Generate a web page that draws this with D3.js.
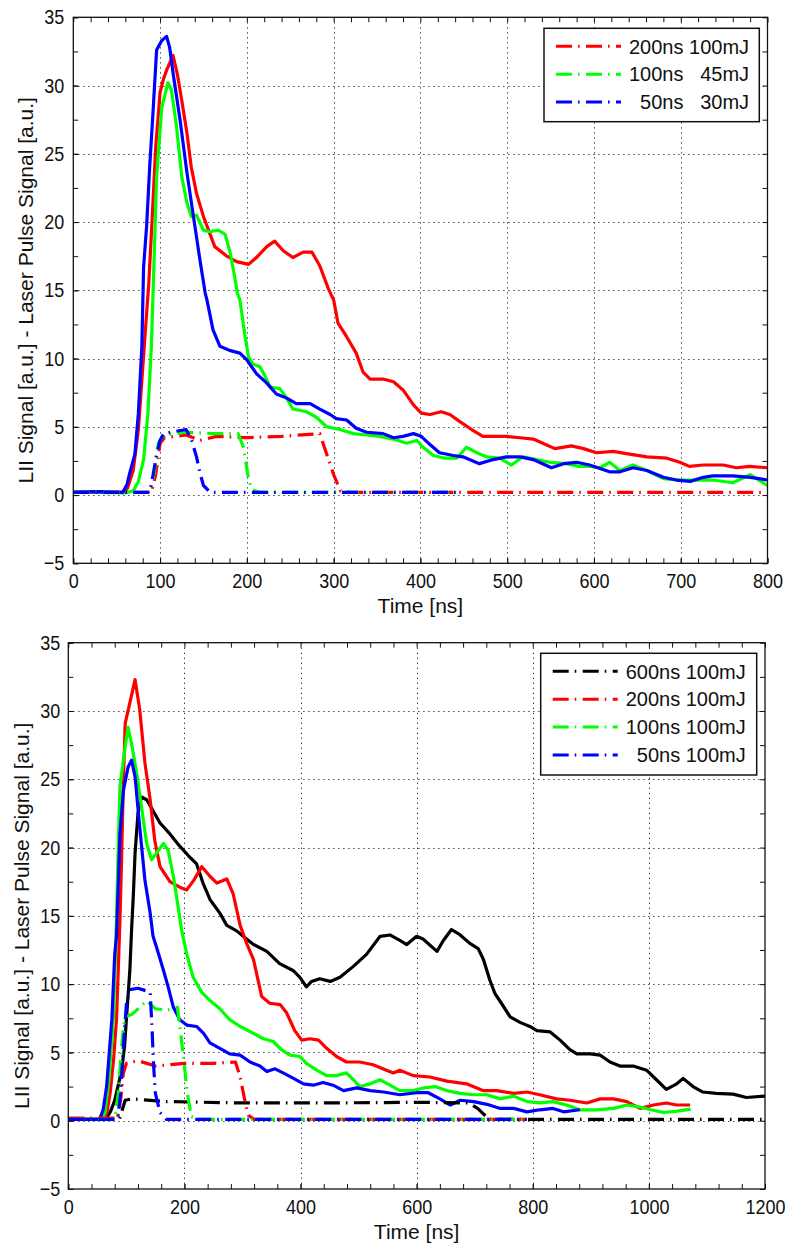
<!DOCTYPE html>
<html>
<head>
<meta charset="utf-8">
<script src="https://cdn.jsdelivr.net/npm/d3@7"></script>
<style>
  body { margin: 0; background: #fff; }
  svg { display: block; }
  text { font-family: "Liberation Sans", Arial, Helvetica, sans-serif; fill: #111; }
</style>
</head>
<body>
<svg id="chart" width="785" height="1248"></svg>
<script>
// ---- top panel data (time ns, signal a.u.) ----
const topLabels = ["200ns\u00a0100mJ", "100ns\u00a0\u00a0\u00a045mJ", "\u00a0\u00a050ns\u00a0\u00a0\u00a030mJ"];
const topColors = ["#ff0000", "#00ff00", "#0000ff"];
const topXTicks = [0, 100, 200, 300, 400, 500, 600, 700, 800];

const topRedLii = [[0,0.2],[20,0.25],[40,0.2],[60,0.2],[63,0.6],[69,1.8],[75,4.8],[79,8.4],[83,12],[87,15.5],[91,20.4],[95,25.5],[100,29.5],[104,30.5],[108,31.2],[115,32.2],[120,30.8],[125,28.9],[131,26.5],[136,24],[142,22.1],[150,20.4],[163,18.2],[177,17.5],[188,17.1],[202,16.9],[211,17.4],[223,18.2],[232,18.6],[242,17.9],[253,17.4],[265,17.8],[275,17.8],[284,16.8],[294,15.1],[300,14.3],[305,12.6],[315,11.6],[326,10.4],[334,9.0],[342,8.5],[357,8.5],[369,8.3],[380,7.7],[392,6.6],[401,6.0],[411,5.9],[424,6.1],[434,5.9],[445,5.4],[459,4.8],[472,4.3],[488,4.3],[499,4.3],[515,4.2],[530,4.1],[541,3.8],[555,3.4],[574,3.6],[588,3.4],[603,3.1],[622,3.2],[641,3.0],[661,2.8],[684,2.7],[699,2.4],[710,2.1],[726,2.2],[749,2.2],[764,2.0],[779,2.1],[800,2.0]];
const topGreenLii = [[0,0.2],[30,0.2],[60,0.15],[69,0.3],[75,1],[81,2.6],[86,6],[90,10.9],[92,15],[96,23.3],[102,28.4],[109,30.2],[113,29.7],[119,27],[125,23.3],[131,21.4],[136,20.4],[142,20.5],[150,19.4],[157,19.3],[167,19.4],[175,19.1],[181,17.7],[186,16],[189,14.8],[192,14.3],[198,11.6],[202,10.1],[207,9.6],[215,9.4],[221,8.7],[227,7.9],[238,7.8],[246,7.1],[253,6.3],[269,6.1],[280,5.7],[292,5.0],[307,4.8],[323,4.5],[338,4.4],[353,4.3],[369,4.1],[384,3.8],[396,4.0],[403,3.5],[415,2.9],[428,2.7],[442,2.7],[453,3.5],[465,3.1],[476,2.8],[491,2.7],[505,2.2],[518,2.8],[534,2.6],[549,2.4],[568,2.3],[583,2.1],[595,2.1],[607,2.0],[618,2.4],[630,1.8],[645,2.2],[661,1.8],[680,1.2],[699,1.1],[718,1.1],[737,1.1],[760,0.9],[780,1.5],[800,0.7]];
const topBlueLii = [[0,0.2],[30,0.25],[57,0.2],[62,0.8],[65,1.6],[71,3],[75,6],[79,10.9],[81,16.7],[84.5,19.7],[88,24],[92,28.2],[96,32.6],[102,33.3],[107.5,33.6],[111,32.8],[115,30.9],[123,27.5],[131,23.6],[138,20.6],[146,17.2],[152,14.8],[154,14.3],[161,12.1],[169,10.9],[180,10.6],[192,10.4],[200,9.9],[211,8.9],[223,8.2],[234,7.4],[246,7.1],[257,6.7],[273,6.7],[284,6.3],[296,5.9],[303,5.6],[315,5.5],[326,4.9],[338,4.6],[357,4.5],[369,4.2],[380,4.3],[392,4.5],[401,4.3],[411,3.7],[422,3.1],[438,2.9],[449,2.8],[468,2.3],[484,2.6],[499,2.8],[515,2.8],[530,2.6],[551,2.0],[565,2.3],[580,2.4],[595,2.2],[618,1.7],[630,1.7],[645,2.0],[661,1.8],[680,1.3],[695,1.1],[711,1.0],[726,1.3],[737,1.4],[760,1.4],[780,1.3],[800,1.1]];
const topRedPulse = [[0,0.2],[90,0.2],[95,1.5],[100,3.8],[105,4.2],[130,4.4],[146,4.0],[165,4.3],[200,4.2],[240,4.3],[284,4.5],[292,3],[300,1.5],[308,0.3],[320,0.2],[800,0.2]];
const topGreenPulse = [[0,0.2],[88,0.2],[93,1.5],[98,3.8],[104,4.4],[130,4.6],[160,4.5],[190,4.5],[196,3.5],[201.6,1.3],[205.5,0.4],[215,0.2],[445,0.2]];
const topBluePulse = [[0,0.2],[88,0.2],[92,1.5],[96,3.0],[100,4.0],[104,4.5],[130,4.8],[136,4.1],[142,2.8],[146,1.6],[150,0.7],[158,0.2],[445,0.2]];

// ---- bottom panel data ----
const botLabels = ["600ns\u00a0100mJ", "200ns\u00a0100mJ", "100ns\u00a0100mJ", "\u00a0\u00a050ns\u00a0100mJ"];
const botColors = ["#000000", "#ff0000", "#00ff00", "#0000ff"];
const botXTicks = [0, 200, 400, 600, 800, 1000, 1200];

const botBlackLii = [[0,0.1],[30,0.1],[60,0.1],[66,0.2],[73,0.7],[80,1.5],[86,2.6],[92,3.7],[97,5.5],[100,7.4],[106,11],[109,14],[112,16.5],[115,19.6],[120,22.5],[126,23.7],[135,23.5],[146,22.7],[158,21.8],[175,21.0],[192,20.1],[207,19.4],[221,18.8],[232,17.4],[244,16.2],[261,15.2],[273,14.3],[290,13.9],[307,13.3],[319,12.9],[342,12.4],[364,11.5],[387,11.0],[399,10.5],[410,9.8],[419,10.2],[433,10.4],[451,10.2],[468,10.5],[491,11.3],[514,12.2],[537,13.5],[554,13.6],[571,13.2],[583,12.9],[600,13.5],[611,13.3],[635,12.4],[646,13.2],[660,14.0],[675,13.6],[691,13.0],[706,12.6],[715,11.8],[726,10.3],[735,9.3],[746,8.6],[761,7.6],[778,7.2],[795,6.9],[807,6.6],[830,6.5],[847,5.9],[864,5.2],[876,4.9],[899,4.9],[916,4.8],[933,4.3],[950,4.0],[973,4.0],[996,3.7],[1013,3.0],[1030,2.3],[1048,2.7],[1059,3.1],[1076,2.5],[1093,2.1],[1116,2.0],[1145,1.95],[1168,1.7],[1200,1.8]];
const botRedLii = [[0,0.15],[30,0.1],[60,0.1],[66,0.5],[72,2],[78,4.5],[83,7.4],[86,11],[89,14.7],[92,19.6],[95,25],[98,29.1],[106,30.6],[115,32.3],[123,30.1],[132,26.2],[141,23.5],[149,20.5],[158,18.6],[175,17.5],[192,17.1],[204,16.9],[216,17.6],[230,18.6],[244,17.9],[256,17.4],[273,17.7],[284,16.6],[296,14.3],[307,13.0],[319,11.8],[333,9.1],[347,8.6],[365,8.5],[376,7.9],[390,6.6],[402,5.9],[416,6.0],[431,5.9],[445,5.3],[462,4.7],[479,4.3],[502,4.3],[525,4.1],[548,3.7],[560,3.5],[571,3.7],[594,3.3],[623,3.2],[652,2.9],[686,2.7],[715,2.2],[738,2.2],[767,2.0],[790,2.1],[812,1.9],[841,1.6],[864,1.5],[893,1.3],[916,1.6],[939,1.6],[962,1.4],[985,0.9],[1008,1.15],[1030,1.3],[1048,1.15],[1071,1.15]];
const botGreenLii = [[0,0.1],[30,0.1],[58,0.1],[63,0.6],[70,3],[77.5,7.4],[83,14.7],[86,20],[89,24.5],[98,27.4],[103,28.8],[109,27.6],[118,25.4],[126,23.0],[135,20.3],[143.5,19.1],[152,19.6],[164,20.3],[172,19.8],[181,17.9],[189,15.7],[195,14],[204,12.2],[215,10.5],[230,9.4],[244,8.8],[261,8.2],[278,7.4],[296,6.9],[319,6.4],[336,6.0],[353,5.8],[367,5.2],[382,4.8],[399,4.7],[410,4.2],[428,3.7],[445,3.3],[462,3.3],[479,3.5],[491,3.0],[502,2.5],[520,2.7],[537,3.0],[554,2.6],[571,2.2],[594,2.2],[612,2.4],[632,2.5],[652,2.2],[675,2.0],[698,1.9],[721,1.9],[744,1.6],[767,1.8],[790,1.4],[812,1.3],[835,1.4],[858,1.15],[881,0.8],[910,0.8],[939,0.9],[962,1.15],[985,1.0],[1003,0.8],[1026,0.6],[1049,0.7],[1072,0.85]];
const botBlueLii = [[0,0.1],[30,0.1],[54,0.1],[60,0.8],[66,2.5],[75,7.4],[80,12.2],[83,13.5],[89,21.0],[95,24.2],[103,25.9],[109,26.4],[115,25.2],[123,21.5],[132,17.6],[141,15.2],[146,13.5],[152,12.7],[164,11.0],[172,9.8],[181,8.3],[192,7.4],[204,7.0],[221,6.9],[233,6.4],[244,5.7],[261,5.3],[278,4.9],[296,4.8],[313,4.3],[330,4.0],[342,3.6],[356,3.8],[370,3.5],[388,3.1],[405,2.7],[422,2.6],[439,2.8],[456,2.6],[474,2.2],[497,2.4],[520,2.2],[543,2.1],[571,1.9],[600,2.05],[620,2.05],[640,1.6],[658,1.15],[675,1.5],[698,1.4],[721,1.2],[744,0.9],[767,0.9],[790,0.65],[812,0.8],[835,0.9],[853,0.65],[881,0.8]];
const botBlackPulse = [[0,0.1],[88,0.1],[93,0.8],[98,1.5],[110,1.6],[170,1.4],[300,1.3],[450,1.3],[600,1.35],[690,1.3],[705,0.9],[715,0.5],[725,0.1],[1200,0.1]];
const botRedPulse = [[0,0.2],[85,0.2],[90,1.5],[95,3.5],[100,4.2],[120,4.4],[150,4.0],[200,4.2],[250,4.2],[288,4.3],[296,3.2],[304,1.5],[310,0.4],[320,0.1],[790,0.1]];
const botGreenPulse = [[0,0.1],[80,0.1],[86,2],[92,5.5],[97,7.6],[110,7.8],[123,8.3],[135,8.8],[150,8.2],[170,8.1],[188,8.3],[193,6.6],[200,4],[205,2],[212,0.3],[225,0.1],[790,0.1]];
const botBluePulse = [[0,0.1],[85,0.1],[90,2],[95,5.5],[100,8.5],[106,9.6],[120,9.7],[135,9.5],[141,9.4],[144,7],[147,4],[150,2],[158,0.6],[169,0.1],[790,0.1]];

const yTicks = [-5, 0, 5, 10, 15, 20, 25, 30, 35];
const yLabel = "LII Signal [a.u.] - Laser Pulse Signal [a.u.]";
const xLabel = "Time [ns]";

const DASHDOT = "16,6,1.6,6.4";
const svg = d3.select("#chart");

function drawPanel(p) {
  const x = d3.scaleLinear().domain(p.xDomain).range([p.left, p.right]);
  const y = d3.scaleLinear().domain([-5, 35]).range([p.bottom, p.top]);
  const g = svg.append("g");

  const clipId = "clip" + p.id;
  g.append("clipPath").attr("id", clipId)
    .append("rect")
    .attr("x", p.left).attr("y", p.top)
    .attr("width", p.right - p.left).attr("height", p.bottom - p.top);

  // dotted grid
  const grid = g.append("g").attr("stroke", "#222").attr("stroke-width", 1)
    .attr("stroke-dasharray", "1.2,3.8");
  grid.selectAll(".gx").data(p.xTicks.slice(1, -1)).enter().append("line")
    .attr("x1", d => Math.round(x(d)) + 0.5).attr("x2", d => Math.round(x(d)) + 0.5)
    .attr("y1", p.top).attr("y2", p.bottom);
  grid.selectAll(".gy").data(yTicks.slice(1, -1)).enter().append("line")
    .attr("y1", d => Math.round(y(d)) + 0.5).attr("y2", d => Math.round(y(d)) + 0.5)
    .attr("x1", p.left).attr("x2", p.right);

  // series
  const line = d3.line().x(d => x(d[0])).y(d => y(d[1]));
  const plot = g.append("g").attr("clip-path", `url(#${clipId})`);
  p.series.forEach(s => {
    plot.append("path")
      .attr("d", line(s.data))
      .attr("fill", "none")
      .attr("stroke", s.color)
      .attr("stroke-width", 3.2)
      .attr("stroke-linejoin", "round")
      .attr("stroke-dasharray", s.dash ? DASHDOT : null);
  });

  // axes with inward ticks on all sides
  const minorX = d3.range(p.xDomain[0], p.xDomain[1] + 0.01, p.xMinor);
  const minorY = d3.range(-5, 35.01, 2.5);
  const fmt = d3.format("d");
  const axes = [
    [d3.axisBottom(x).tickValues(p.xTicks).tickSize(-5).tickPadding(9).tickFormat(fmt), `translate(0,${p.bottom})`],
    [d3.axisBottom(x).tickValues(minorX).tickSize(-5).tickFormat(""), `translate(0,${p.bottom})`],
    [d3.axisTop(x).tickValues(minorX).tickSize(-5).tickFormat(""), `translate(0,${p.top})`],
    [d3.axisLeft(y).tickValues(yTicks).tickSize(-5).tickPadding(p.yPad).tickFormat(fmt), `translate(${p.left},0)`],
    [d3.axisLeft(y).tickValues(minorY).tickSize(-5).tickFormat(""), `translate(${p.left},0)`],
    [d3.axisRight(y).tickValues(minorY).tickSize(-5).tickFormat(""), `translate(${p.right},0)`],
  ];
  axes.forEach(([ax, tr]) => {
    const a = g.append("g").attr("transform", tr).call(ax);
    a.select(".domain").remove();
    a.selectAll("line").attr("stroke", "#111");
    a.selectAll("text").attr("font-size", 18).attr("fill", "#111")
      .attr("transform", "scale(1,1.15)")
      .style("font-family", '"Liberation Sans", Arial, sans-serif');
  });

  g.append("rect")
    .attr("x", p.left).attr("y", p.top)
    .attr("width", p.right - p.left).attr("height", p.bottom - p.top)
    .attr("fill", "none").attr("stroke", "#111").attr("stroke-width", 1.3);

  // axis labels
  g.append("text")
    .attr("x", (p.left + p.right) / 2).attr("y", p.bottom + 50)
    .attr("text-anchor", "middle").attr("font-size", 21)
    .text(xLabel);
  g.append("text")
    .attr("transform", `translate(${p.yLabelX},${(p.top + p.bottom) / 2}) rotate(-90)`)
    .attr("text-anchor", "middle").attr("font-size", 21)
    .text(yLabel);

  // legend
  const L = p.legend;
  g.append("rect")
    .attr("x", L.x).attr("y", L.y).attr("width", L.w).attr("height", L.h)
    .attr("fill", "#fff").attr("stroke", "#111").attr("stroke-width", 1.5);
  p.labels.forEach((name, i) => {
    const ry = L.y + 18 + i * 27.9;
    g.append("line")
      .attr("x1", L.x + 12).attr("x2", L.x + 77)
      .attr("y1", ry).attr("y2", ry)
      .attr("stroke", p.colors[i]).attr("stroke-width", 3)
      .attr("stroke-dasharray", DASHDOT);
    g.append("text")
      .attr("x", L.x + 85).attr("y", ry).attr("dy", "0.36em")
      .attr("font-size", 20)
      .text(name);
  });
}

drawPanel({
  id: "top", xDomain: [0, 800], xTicks: topXTicks, xMinor: 20,
  left: 73.3, right: 767.5, top: 17.3, bottom: 563.3, yPad: 9, yLabelX: 33,
  labels: topLabels, colors: topColors,
  legend: { x: 544, y: 28.3, w: 215.3, h: 93.4 },
  series: [
    { data: topRedLii, color: topColors[0] },
    { data: topGreenLii, color: topColors[1] },
    { data: topBlueLii, color: topColors[2] },
    { data: topRedPulse, color: topColors[0], dash: true },
    { data: topGreenPulse, color: topColors[1], dash: true },
    { data: topBluePulse, color: topColors[2], dash: true },
  ],
});

drawPanel({
  id: "bot", xDomain: [0, 1200], xTicks: botXTicks, xMinor: 40,
  left: 68.3, right: 765, top: 642.7, bottom: 1189, yPad: 8, yLabelX: 29,
  labels: botLabels, colors: botColors,
  legend: { x: 540.7, y: 653.3, w: 216, h: 121.7 },
  series: [
    { data: botBlackLii, color: botColors[0] },
    { data: botRedLii, color: botColors[1] },
    { data: botGreenLii, color: botColors[2] },
    { data: botBlueLii, color: botColors[3] },
    { data: botBlackPulse, color: botColors[0], dash: true },
    { data: botRedPulse, color: botColors[1], dash: true },
    { data: botGreenPulse, color: botColors[2], dash: true },
    { data: botBluePulse, color: botColors[3], dash: true },
  ],
});
</script>
</body>
</html>
